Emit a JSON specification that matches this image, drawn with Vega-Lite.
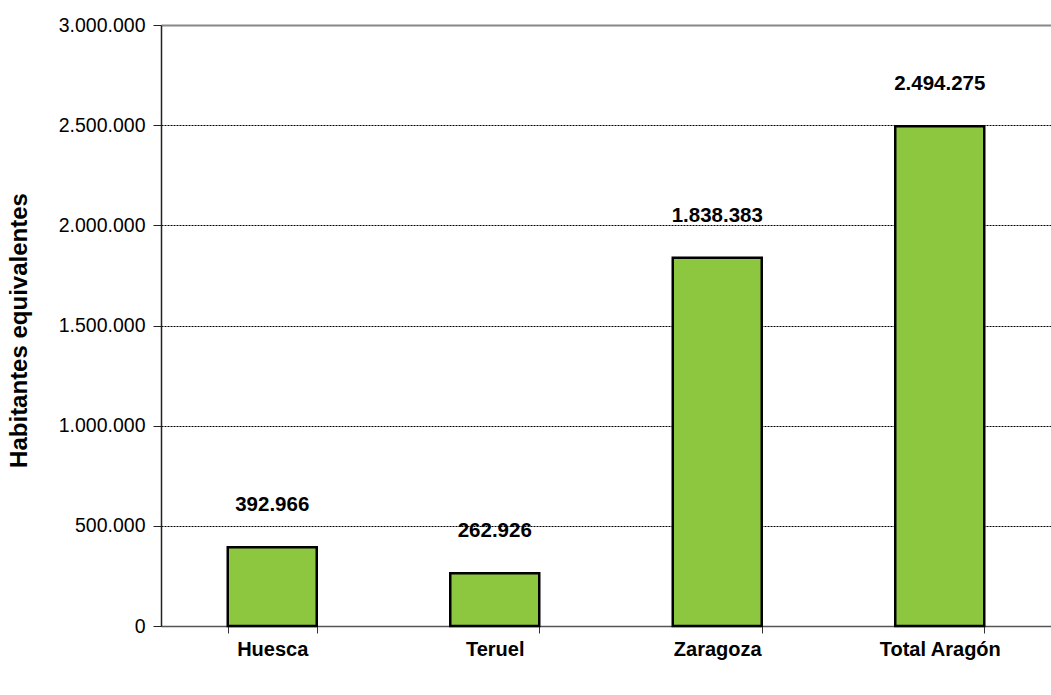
{
  "$schema": "https://vega.github.io/schema/vega-lite/v6.json",
  "width": 890,
  "height": 601,
  "autosize": {"type": "none"},
  "padding": {"left": 161, "top": 25, "right": 0, "bottom": 69},
  "background": "white",
  "config": {
    "view": {"stroke": null},
    "font": "Liberation Sans",
    "locale": {"number": {"decimal": ",", "thousands": ".", "grouping": [3], "currency": ["", " €"]}}
  },
  "data": {
    "values": [
      {"provincia": "Huesca", "habitantes": 392966},
      {"provincia": "Teruel", "habitantes": 262926},
      {"provincia": "Zaragoza", "habitantes": 1838383},
      {"provincia": "Total Aragón", "habitantes": 2494275}
    ]
  },
  "encoding": {
    "x": {
      "field": "provincia",
      "type": "nominal",
      "sort": null,
      "scale": {"paddingInner": 0.6, "paddingOuter": 0.3},
      "axis": {
        "title": null,
        "labelAngle": 0,
        "labelFont": "Liberation Sans",
        "labelFontWeight": "bold",
        "labelFontSize": 20,
        "labelColor": "black",
        "labelPadding": 6,
        "tickBand": "extent",
        "tickSize": 7,
        "tickColor": "#333",
        "domainColor": "#555",
        "domainWidth": 1.5
      }
    },
    "y": {
      "field": "habitantes",
      "type": "quantitative",
      "scale": {"domain": [0, 3000000], "nice": false},
      "axis": {
        "title": "Habitantes equivalentes",
        "titleFont": "Liberation Sans",
        "titleFontSize": 24,
        "titleFontWeight": "bold",
        "titleColor": "black",
        "titleX": -130,
        "titleY": 305,
        "titleAnchor": "middle",
        "values": [0, 500000, 1000000, 1500000, 2000000, 2500000, 3000000],
        "format": ",d",
        "labelFont": "Liberation Sans",
        "labelFontSize": 19.5,
        "labelColor": "black",
        "labelPadding": 8,
        "tickSize": 8,
        "tickColor": "#222",
        "domainColor": "#222",
        "domainWidth": 1.5,
        "grid": true,
        "gridColor": {"condition": {"test": "datum.value == 3000000", "value": "#888"}, "value": "black"},
        "gridDash": {"condition": {"test": "datum.value == 3000000", "value": []}, "value": [2, 1]},
        "gridWidth": {"condition": {"test": "datum.value == 3000000", "value": 2}, "value": 1},
        "gridOpacity": 1
      }
    }
  },
  "layer": [
    {
      "mark": {"type": "bar", "color": "#8DC63F", "stroke": "black", "strokeWidth": 2.5}
    },
    {
      "mark": {"type": "text", "dy": -42, "fontSize": 20.5, "fontWeight": "bold", "font": "Liberation Sans", "color": "black"},
      "encoding": {"text": {"field": "habitantes", "type": "quantitative", "format": ",d"}}
    }
  ]
}
